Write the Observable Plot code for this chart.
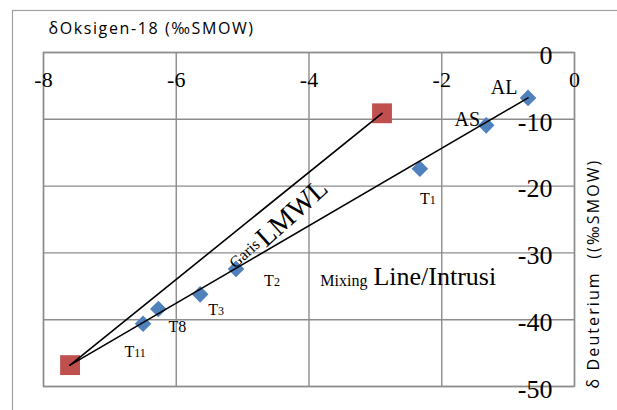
<!DOCTYPE html>
<html><head><meta charset="utf-8">
<script src="https://cdn.jsdelivr.net/npm/d3@7"></script>
<script src="https://cdn.jsdelivr.net/npm/@observablehq/plot@0.6"></script>
<style>body{margin:0;background:#fff;} svg{display:block}</style>
</head><body><div id="chart"></div>
<script>
// Samples (blue diamonds)
const sampleNames = ["AL", "AS", "T1", "T2", "T3", "T8", "T11"];
const sampleO18 = [-0.70, -1.33, -2.33, -5.10, -5.64, -6.27, -6.50];
const sampleD2H = [-6.8, -10.9, -17.4, -32.4, -36.2, -38.4, -40.6];
// LMWL end members (red squares)
const lmwlO18 = [-7.60, -2.90];
const lmwlD2H = [-46.8, -9.1];
// Mixing line end points
const mixO18 = [-7.60, -0.70];
const mixD2H = [-46.8, -6.8];
// Ticks
const xTicks = [-8, -6, -4, -2, 0];
const yTicks = [0, -10, -20, -30, -40, -50];
// Axis titles
const xTitle = "δOksigen-18 (‰SMOW)";
const yTitle = "δ Deuterium  ((‰SMOW)";
// Annotation anchors (data coords)
const annGaris = [{text: "Garis", x: -4.97, y: -30.1}];
const annLMWL = [{text: "LMWL", x: -4.26, y: -24.0}];
const annMixing = [{text: "Mixing", x: -3.83, y: -34.2}];
const annIntrusi = [{text: "Line/Intrusi", x: -3.03, y: -33.6}];

const samples = sampleNames.map((name, i) => ({name, x: sampleO18[i], y: sampleD2H[i]}));
const lmwl = lmwlO18.map((x, i) => ({x, y: lmwlD2H[i]}));
const mix = mixO18.map((x, i) => ({x, y: mixD2H[i]}));

const labelOffsets = {AL: [-24, -10], AS: [-19, -6], T1: [8, 30], T2: [36, 12], T3: [16, 16], T8: [19, 18], T11: [-8, 28]};

const grid = "#8c8c8c";
const serif = "'Liberation Serif', 'Times New Roman', serif";
const sans = "'Open Sans', sans-serif";

const plot = Plot.plot({
  width: 617, height: 410,
  marginLeft: 43, marginRight: 43, marginTop: 52, marginBottom: 24,
  x: {domain: [-8, 0], axis: null},
  y: {domain: [-50, 0], axis: null},
  style: {background: "#fff", fontFamily: serif, color: "#000"},
  marks: [
    Plot.gridX(xTicks, {stroke: grid, strokeOpacity: 1, strokeWidth: 1.4}),
    Plot.gridY(yTicks, {stroke: grid, strokeOpacity: 1, strokeWidth: 1.4}),
    Plot.frame({stroke: grid, strokeWidth: 1.4}),
    Plot.text(xTicks, {x: d => d, frameAnchor: "top", lineAnchor: "middle", dy: 27, text: d => `${d}`, fontSize: 22, fontFamily: serif, fill: "#000"}),
    Plot.text(yTicks, {y: d => d, frameAnchor: "right", lineAnchor: "middle", dx: -22, dy: 3, textAnchor: "end", text: d => `${d}`, fontSize: 26, fontFamily: serif, fill: "#000"}),
    Plot.dot(samples, {x: "x", y: "y", symbol: "diamond2", r: 7.5, fill: "#4F81BD", stroke: "none"}),
    Plot.dot(lmwl, {x: "x", y: "y", symbol: "square", r: 11.2, fill: "#C0504D", stroke: "none"}),
    Plot.line(lmwl, {x: "x", y: "y", stroke: "#000", strokeWidth: 1.6}),
    Plot.line(mix, {x: "x", y: "y", stroke: "#000", strokeWidth: 1.6}),
    ...sampleNames.map(n => Plot.text(samples.filter(d => d.name === n), {
      x: "x", y: "y", text: "name", dx: labelOffsets[n][0], dy: labelOffsets[n][1],
      fontSize: n.startsWith("T") ? 16 : 20, fontFamily: serif, fill: "#000"
    })),
    Plot.text(annGaris, {x: "x", y: "y", text: "text", rotate: -42, fontSize: 16, fontFamily: serif, fill: "#000"}),
    Plot.text(annLMWL, {x: "x", y: "y", text: "text", rotate: -42, fontSize: 28, fontFamily: serif, fill: "#000"}),
    Plot.text(annMixing, {x: "x", y: "y", text: "text", textAnchor: "start", fontSize: 16, fontFamily: serif, fill: "#000"}),
    Plot.text(annIntrusi, {x: "x", y: "y", text: "text", textAnchor: "start", fontSize: 26, fontFamily: serif, fill: "#000"}),
    Plot.text([xTitle], {frameAnchor: "top-left", lineAnchor: "middle", textAnchor: "start", dx: 5, dy: -24, fontSize: 16, fontFamily: sans, fill: "#000"}),
    Plot.text([yTitle], {frameAnchor: "right", lineAnchor: "middle", textAnchor: "middle", dx: 19, dy: 54, rotate: -90, fontSize: 16, fontFamily: sans, fill: "#000"})
  ]
});

const svg = d3.select(plot);
// outer chart border
svg.insert("rect", ":scope > :nth-child(2)")
  .attr("x", 12.5).attr("y", 10.5).attr("width", 700).attr("height", 500)
  .attr("fill", "none").attr("stroke", "#a0a0a0").attr("stroke-width", 1.2);
svg.selectAll("text").each(function() {
  const t = this.textContent;
  // wide letter spacing of the axis titles
  if (t === xTitle) this.setAttribute("letter-spacing", "1.6px");
  if (t === yTitle) this.setAttribute("letter-spacing", "2.1px");
  // smaller digits in T labels
  const m = /^T(1|2|3|11)$/.exec(t);
  if (m && this.childElementCount === 0) {
    const el = d3.select(this);
    el.text("T");
    el.append("tspan").attr("font-size", 12).text(m[1]);
  }
});
document.getElementById("chart").appendChild(plot);
</script>
</body></html>
